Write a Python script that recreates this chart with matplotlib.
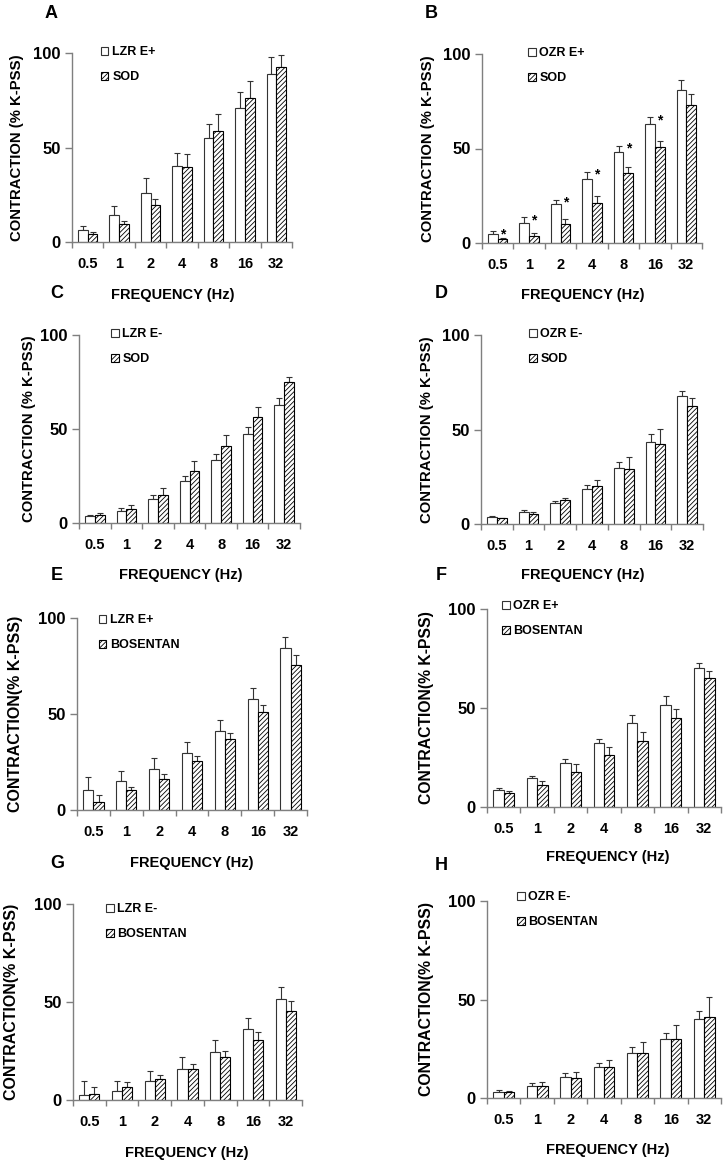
import matplotlib.pyplot as plt
import numpy as np

plt.rcParams['font.family'] = ['Liberation Sans', 'DejaVu Sans']
plt.rcParams['font.weight'] = 'bold'
plt.rcParams['hatch.linewidth'] = 0.6

W, H = 726, 1164
freqs = ['0.5', '1', '2', '4', '8', '16', '32']

# A: LZR E+ vs SOD
a_ctrl = [6.5, 14.2, 25.7, 40.2, 54.9, 70.8, 88.8]
a_ctrl_err = [1.8, 4.7, 8.3, 6.7, 7.6, 8.5, 8.9]
a_trt = [4.4, 9.4, 19.5, 39.5, 58.9, 76.3, 92.6]
a_trt_err = [0.9, 1.6, 3.5, 6.9, 8.9, 9.0, 6.2]
# B: OZR E+ vs SOD
b_ctrl = [5.0, 10.8, 20.4, 33.8, 48.0, 62.8, 80.9]
b_ctrl_err = [1.2, 2.7, 2.6, 3.7, 3.3, 3.7, 5.6]
b_trt = [2.1, 3.9, 10.3, 21.2, 36.8, 50.8, 72.9]
b_trt_err = [0.7, 1.6, 2.6, 3.8, 3.6, 3.4, 6.2]
b_sig = [True, True, True, True, True, True, False]
# C: LZR E- vs SOD
c_ctrl = [3.9, 6.5, 12.7, 22.1, 33.6, 47.3, 62.7]
c_ctrl_err = [0.3, 1.5, 2.0, 2.7, 3.2, 3.7, 3.7]
c_trt = [4.4, 7.4, 14.7, 27.4, 41.1, 56.3, 74.9]
c_trt_err = [0.9, 2.2, 3.7, 5.7, 5.6, 5.6, 3.0]
# D: OZR E- vs SOD
d_ctrl = [3.9, 6.3, 11.1, 18.7, 29.4, 43.5, 67.6]
d_ctrl_err = [0.3, 1.3, 1.2, 2.1, 3.3, 4.2, 2.8]
d_trt = [3.0, 5.5, 12.9, 20.1, 29.0, 42.1, 62.5]
d_trt_err = [0.3, 0.8, 0.8, 3.1, 6.7, 8.3, 4.2]
# E: LZR E+ vs BOSENTAN
e_ctrl = [10.4, 15.1, 21.4, 29.6, 41.0, 57.7, 84.5]
e_ctrl_err = [7.0, 5.4, 5.9, 5.9, 5.8, 6.0, 5.8]
e_trt = [4.0, 10.4, 16.0, 25.7, 37.0, 51.1, 75.3]
e_trt_err = [4.0, 1.8, 2.6, 2.6, 3.0, 3.5, 5.2]
# F: OZR E+ vs BOSENTAN
f_ctrl = [8.8, 14.4, 22.3, 32.3, 42.2, 51.5, 70.4]
f_ctrl_err = [1.0, 1.5, 1.7, 2.0, 4.1, 4.4, 2.2]
f_trt = [7.1, 11.0, 17.6, 26.5, 33.3, 44.9, 65.2]
f_trt_err = [1.0, 2.2, 3.9, 3.7, 4.4, 4.6, 3.4]
# G: LZR E- vs BOSENTAN
g_ctrl = [2.4, 4.8, 9.5, 15.8, 24.7, 36.1, 51.4]
g_ctrl_err = [7.1, 5.1, 5.5, 6.2, 6.0, 5.6, 6.2]
g_trt = [2.9, 6.5, 10.6, 16.0, 22.1, 30.7, 45.5]
g_trt_err = [3.9, 2.5, 2.3, 2.6, 2.9, 3.9, 4.8]
# H: OZR E- vs BOSENTAN
h_ctrl = [3.0, 5.9, 10.7, 15.6, 23.0, 30.1, 40.3]
h_ctrl_err = [0.9, 1.5, 2.0, 2.3, 3.1, 3.1, 4.0]
h_trt = [3.2, 6.1, 10.0, 15.6, 22.7, 29.8, 40.9]
h_trt_err = [0.4, 1.9, 3.0, 3.9, 5.7, 7.4, 10.4]

fig = plt.figure(figsize=(W / 100, H / 100), dpi=100)
gray = '#7f7f7f'
dark = '#333333'


def ftext(x, y, s, **kw):
    fig.text(x / W, 1 - y / H, s, ha='center', va='center', **kw)


def panel(box, ctrl, ctrl_err, trt, trt_err, names, ylabel, ylab_x, ylab_size,
          leg_xy, letter, letter_xy, freq_xy, sig=None):
    x0, y0, x1, y1 = box
    ax = fig.add_axes([x0 / W, 1 - y1 / H, (x1 - x0) / W, (y1 - y0) / H])
    x = np.arange(len(freqs))
    w = 0.31
    n = len(freqs)
    ax.bar(x - w / 2, ctrl, w, color='white', edgecolor=dark, linewidth=0.8,
           label=names[0], zorder=2)
    ax.bar(x + w / 2, trt, w, color='white', edgecolor='black', linewidth=0.8,
           hatch='///////', label=names[1], zorder=2)
    ax.errorbar(x - w / 2, ctrl, yerr=[np.zeros(n), ctrl_err], fmt='none',
                ecolor=dark, elinewidth=0.8, capsize=2.5, capthick=0.8, zorder=1)
    ax.errorbar(x + w / 2, trt, yerr=[np.zeros(n), trt_err], fmt='none',
                ecolor=dark, elinewidth=0.8, capsize=2.5, capthick=0.8, zorder=1)
    if sig is not None:
        for i in range(n):
            if sig[i]:
                ax.text(x[i] + w / 2, ctrl[i] + ctrl_err[i] - 1.5, '*',
                        ha='center', va='center', fontsize=10)
    ax.set_xlim(-0.5, n - 0.5)
    ax.set_ylim(0, 100)
    ax.set_xticks(x)
    ax.set_xticklabels(freqs)
    ax.set_xticks(np.arange(-0.5, n, 1), minor=True)
    ax.tick_params(axis='x', which='major', length=0, pad=11, labelsize=10.5)
    ax.tick_params(axis='x', which='minor', length=4, color=gray, width=1)
    ax.set_yticks([0, 50, 100])
    ax.tick_params(axis='y', length=5, color=gray, width=1, pad=3, labelsize=12)
    for s in ['top', 'right']:
        ax.spines[s].set_visible(False)
    for s in ['left', 'bottom']:
        ax.spines[s].set_color(gray)
        ax.spines[s].set_linewidth(1)
    ax.legend(loc='upper left', bbox_to_anchor=(leg_xy[0] / W, 1 - (leg_xy[1] - 7) / H),
              bbox_transform=fig.transFigure, frameon=False, fontsize=9,
              handlelength=0.6, handleheight=0.6, handletextpad=0.3,
              labelspacing=1.05, borderaxespad=0, borderpad=0)
    ftext(ylab_x, (y0 + y1) / 2, ylabel, rotation=90, fontsize=ylab_size)
    ftext(letter_xy[0], letter_xy[1], letter, fontsize=13)
    ftext(freq_xy[0], freq_xy[1], 'FREQUENCY (Hz)', fontsize=10.5)
    return ax


lab1 = 'CONTRACTION (% K-PSS)'
lab2 = 'CONTRACTION(% K-PSS)'

panel((72, 53, 292, 242), a_ctrl, a_ctrl_err, a_trt, a_trt_err, ['LZR E+', 'SOD'],
      lab1, 17, 10.7, (101, 53), 'A', (51, 13), (173, 295))
panel((482, 54, 702, 243), b_ctrl, b_ctrl_err, b_trt, b_trt_err, ['OZR E+', 'SOD'],
      lab1, 428, 10.7, (528, 54), 'B', (431, 13), (583, 295), sig=b_sig)
panel((79, 335, 300, 523), c_ctrl, c_ctrl_err, c_trt, c_trt_err, ['LZR E-', 'SOD'],
      lab1, 29, 10.7, (111, 335), 'C', (57, 293), (181, 575))
panel((481, 335, 703, 524), d_ctrl, d_ctrl_err, d_trt, d_trt_err, ['OZR E-', 'SOD'],
      lab1, 427, 10.7, (529, 335), 'D', (441, 293), (583, 575))
panel((77, 618, 307, 810), e_ctrl, e_ctrl_err, e_trt, e_trt_err, ['LZR E+', 'BOSENTAN'],
      lab2, 16, 11.5, (99, 621), 'E', (57, 576), (192, 863))
panel((487, 609, 721, 807), f_ctrl, f_ctrl_err, f_trt, f_trt_err, ['OZR E+', 'BOSENTAN'],
      lab2, 427, 11.3, (502, 607), 'F', (441, 576), (608, 857))
panel((73, 904, 302, 1100), g_ctrl, g_ctrl_err, g_trt, g_trt_err, ['LZR E-', 'BOSENTAN'],
      lab2, 12, 11.5, (106, 910), 'G', (57, 864), (187, 1153))
panel((487, 901, 721, 1098), h_ctrl, h_ctrl_err, h_trt, h_trt_err, ['OZR E-', 'BOSENTAN'],
      lab2, 426, 11.4, (517, 898), 'H', (441, 866), (608, 1150))

fig.savefig('out.png', dpi=100)
